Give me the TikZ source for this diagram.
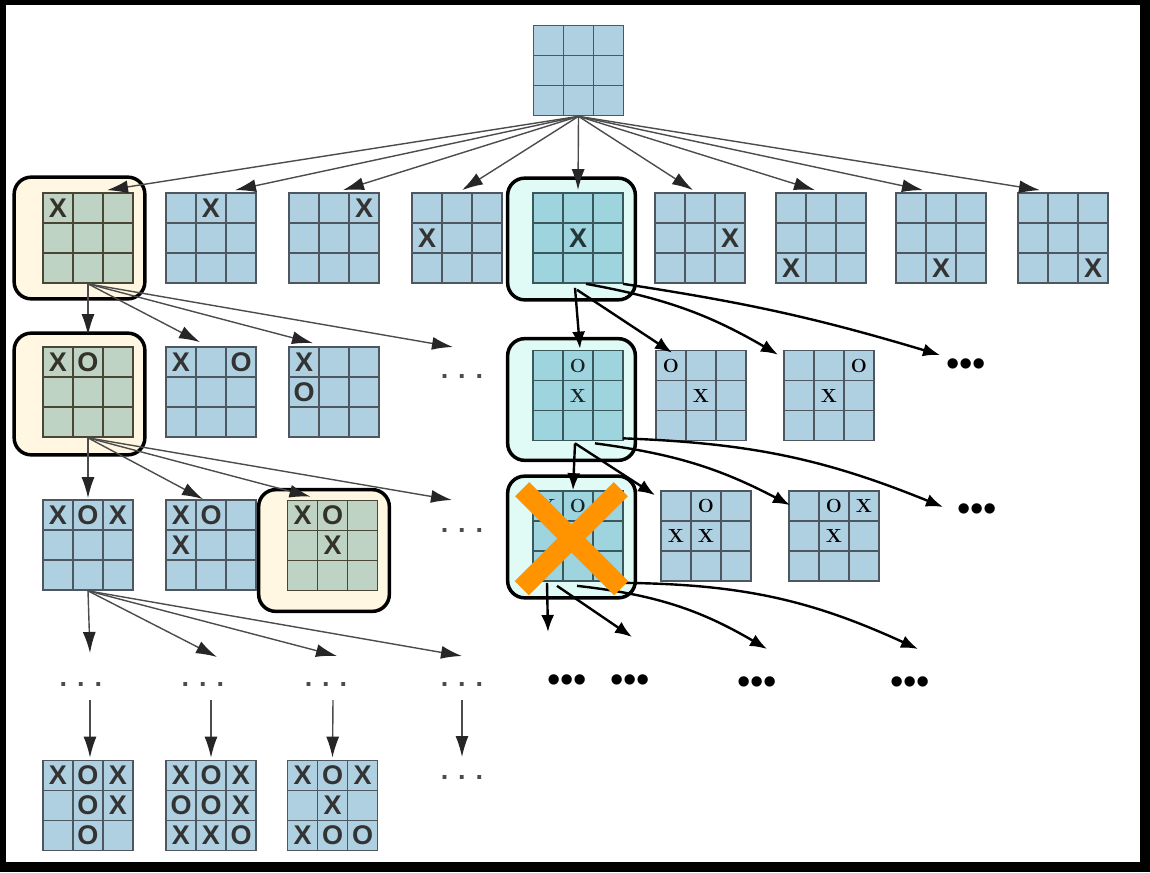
\documentclass[tikz,border=0pt]{standalone}
\usepackage{fontspec}
\usepackage{xcolor}
\usepackage{tikz}
\usetikzlibrary{matrix, positioning, fit, backgrounds, arrows.meta}
\setsansfont{Liberation Sans}
\definecolor{colorB}{HTML}{AED0E0}
\definecolor{colorL}{HTML}{4E575F}
\definecolor{colorG}{HTML}{BED3C4}
\definecolor{colorGL}{HTML}{4A4636}
\definecolor{colorT}{HTML}{9ED4DE}
\definecolor{colorTL}{HTML}{3A585C}
\definecolor{colorY}{HTML}{FFF7E1}
\definecolor{colorC}{HTML}{E0FAF6}
\definecolor{colorA}{HTML}{4C4C4C}
\definecolor{colorO}{HTML}{FF9400}

\tikzset{
    board/.style={matrix of nodes, nodes in empty cells, inner sep=0pt, outer sep=0pt,
        row sep=-1.7pt, column sep=-1.7pt,
        nodes={draw=colorL, line width=1.7pt, fill=colorB, minimum size=30pt,
            anchor=center, inner sep=0pt, outer sep=0pt, text=black!80,
            font=\fontsize{27}{27}\sffamily\bfseries}},
    sboard/.style={board, nodes={font=\fontsize{19}{19}\rmfamily\bfseries, text=black}},
    yboard/.style={board, nodes={fill=colorG, draw=colorGL, text=colorGL!70!black}},
    tboard/.style={board, nodes={fill=colorT, draw=colorTL, text=colorTL!60!black}},
    tsboard/.style={sboard, nodes={fill=colorT, draw=colorTL, text=colorTL!40!black}},
    hbox/.style={draw=black, line width=3.5pt, rounded corners=17pt, inner ysep=15pt},
    ybox/.style={hbox, fill=colorY, inner xsep=19.5pt, xshift=-8.5pt},
    cbox/.style={hbox, fill=colorC, inner xsep=18pt, xshift=-6.5pt},
    garrow/.style={draw=colorA, line width=1.4pt, -{Latex[length=21pt,width=13pt,color=black!85]}},
    karrow/.style={draw=black, line width=2.4pt, -{Latex[length=17pt,width=13pt]}},
    gdots/.style={inner sep=0pt, text=colorA, font=\fontsize{27}{27}\sffamily\bfseries},
    kdots/.style={inner sep=0pt, text=black, font=\fontsize{38}{38}\sffamily}
}

\begin{document}
\begin{tikzpicture}[x=1pt, y=-1pt]
        \begin{scope}[on background layer]
                \fill[black] (0,0) rectangle (1150,872);
                \fill[white] (6,5) rectangle (1140,862);
        \end{scope}

        \matrix (root) [board] at (578.5,70.5) { & & \\ & & \\ & & \\};

        \matrix (a1) [yboard] at (88,238) {X & & \\ & & \\ & & \\};
        \matrix (a2) [board] at (211,238) { & X & \\ & & \\ & & \\};
        \matrix (a3) [board] at (334,238) { & & X \\ & & \\ & & \\};
        \matrix (a4) [board] at (457,238) { & & \\ X & & \\ & & \\};
        \matrix (a5) [tboard] at (578,238) { & & \\ & X & \\ & & \\};
        \matrix (a6) [board] at (700,238) { & & \\ & & X \\ & & \\};
        \matrix (a7) [board] at (821,238) { & & \\ & & \\ X & & \\};
        \matrix (a8) [board] at (941,238) { & & \\ & & \\ & X & \\};
        \matrix (a9) [board] at (1063,238) { & & \\ & & \\ & & X \\};

        \matrix (b1) [yboard] at (88,392) {X & O & \\ & & \\ & & \\};
        \matrix (b2) [board] at (211,392) {X & & O \\ & & \\ & & \\};
        \matrix (b3) [board] at (334,392) {X & & \\ O & & \\ & & \\};
        \node[gdots] (bd) at (462,376) {. . .};

        \matrix (e1) [tsboard] at (578,395.5) { & O & \\ & X & \\ & & \\};
        \matrix (e2) [sboard] at (701,395.5) {O & & \\ & X & \\ & & \\};
        \matrix (e3) [sboard] at (829,395.5) { & & O \\ & X & \\ & & \\};
        \node[kdots] (ed) at (966,368) {•••};

        \matrix (c1) [board] at (88,545) {X & O & X \\ & & \\ & & \\};
        \matrix (c2) [board] at (211,545) {X & O & \\ X & & \\ & & \\};
        \matrix (c3) [yboard] at (332.5,545.5) {X & O & \\ & X & \\ & & \\};
        \node[gdots] (cd) at (462,530) {. . .};

        \matrix (f1) [tsboard] at (578,536) {X & O & \\ & X & \\ & & \\};
        \matrix (f2) [sboard] at (706,536) { & O & \\ X & X & \\ & & \\};
        \matrix (f3) [sboard] at (834,536) { & O & X \\ & X & \\ & & \\};
        \node[kdots] (fd) at (977,513) {•••};

        \node[gdots] (g1) at (81,684) {. . .};
        \node[gdots] (g2) at (203,684) {. . .};
        \node[gdots] (g3) at (326,684) {. . .};
        \node[gdots] (g4) at (462,684) {. . .};

        \node[kdots] (h1) at (567,684) {•••};
        \node[kdots] (h2) at (630,684) {•••};
        \node[kdots] (h3) at (757,686) {•••};
        \node[kdots] (h4) at (910,686) {•••};

        \matrix (k1) [board] at (88,805.5) {X & O & X \\ & O & X \\ & O & \\};
        \matrix (k2) [board] at (211,805.5) {X & O & X \\ O & O & X \\ X & X & O \\};
        \matrix (k3) [board] at (332.5,805.5) {X & O & X \\ & X & \\ X & O & O \\};
        \node[gdots] (kd) at (462,777) {. . .};

        \begin{scope}[on background layer]
                \node[ybox, fit=(a1)] (ha1) {};
                \node[ybox, fit=(b1), yshift=-2pt] (hb1) {};
                \node[ybox, fit=(c3), yshift=-5pt] (hc3) {};
                \node[cbox, fit=(a5), yshift=-1pt] (ha5) {};
                \node[cbox, fit=(e1), yshift=-4pt] (he1) {};
                \node[cbox, fit=(f1), yshift=-1pt] (hf1) {};
        \end{scope}

        \draw[garrow] (root.south) -- ([xshift=19pt,yshift=2pt]a1.north);
        \draw[garrow] (root.south) -- ([xshift=24pt,yshift=2pt]a2.north);
        \draw[garrow] (root.south) -- ([xshift=9pt,yshift=2pt]a3.north);
        \draw[garrow] (root.south) -- ([xshift=5pt,yshift=2pt]a4.north);
        \draw[garrow] (root.south) -- ([yshift=2pt]a5.north);
        \draw[garrow] (root.south) -- ([xshift=-7pt,yshift=2pt]a6.north);
        \draw[garrow] (root.south) -- ([xshift=-6pt,yshift=2pt]a7.north);
        \draw[garrow] (root.south) -- ([xshift=-18pt,yshift=2pt]a8.north);
        \draw[garrow] (root.south) -- ([xshift=-23pt,yshift=2pt]a9.north);

        \draw[garrow] (a1.south) -- ([yshift=11pt]b1.north);
        \draw[garrow] (a1.south) -- ([xshift=-11pt,yshift=4pt]b2.north);
        \draw[garrow] (a1.south) -- ([xshift=-21pt,yshift=3pt]b3.north);
        \draw[garrow] (a1.south) -- ([xshift=-9pt,yshift=29pt]bd.center);

        \draw[garrow] (b1.south) -- ([yshift=1pt]c1.north);
        \draw[garrow] (b1.south) -- ([xshift=-8pt]c2.north);
        \draw[garrow] (b1.south) -- ([xshift=-22pt,yshift=3pt]c3.north);
        \draw[garrow] (b1.south) -- ([xshift=-10pt,yshift=30pt]cd.center);

        \draw[garrow] (c1.south) -- ([xshift=9pt,yshift=31pt]g1.center);
        \draw[garrow] (c1.south) -- ([xshift=14pt,yshift=27pt]g2.center);
        \draw[garrow] (c1.south) -- ([xshift=11pt,yshift=28pt]g3.center);
        \draw[garrow] (c1.south) -- ([yshift=28pt]g4.center);

        \draw[garrow] ([xshift=9pt,yshift=-16pt]g1.center) -- ([xshift=2pt,yshift=2pt]k1.north);
        \draw[garrow] ([xshift=8pt,yshift=-16pt]g2.center) -- ([yshift=2pt]k2.north);
        \draw[garrow] ([xshift=7pt,yshift=-16pt]g3.center) -- ([yshift=2pt]k3.north);
        \draw[garrow] ([yshift=-16pt]g4.center) -- ([yshift=20pt]kd.center);

        \draw[karrow] ([xshift=-3pt,yshift=-4pt]a5.south) -- ([xshift=2pt,yshift=1pt]e1.north);
        \draw[karrow] ([xshift=-1pt,yshift=-6pt]a5.south) -- ([xshift=-29pt,yshift=-3pt]e2.north);
        \draw[karrow] ([xshift=8pt]a5.south) to[bend left=10] ([xshift=-51pt,yshift=-5pt]e3.north);
        \draw[karrow] ([xshift=45pt]a5.south) to[bend left=4] ([xshift=-26pt,yshift=13pt]ed.center);

        \draw[karrow] ([xshift=-3pt,yshift=-2pt]e1.south) -- ([xshift=-5pt]f1.north);
        \draw[karrow] ([xshift=-3pt,yshift=-2pt]e1.south) -- ([xshift=-51pt,yshift=-5pt]f2.north);
        \draw[karrow] ([xshift=17pt,yshift=-2pt]e1.south) to[bend left=10] ([xshift=-44pt,yshift=-15pt]f3.north);
        \draw[karrow] ([xshift=45pt,yshift=3pt]e1.south) to[bend left=10] ([xshift=-34pt,yshift=6pt]fd.center);

        \draw[karrow] ([xshift=-31pt,yshift=-1pt]f1.south) -- ([xshift=-19pt,yshift=52pt]h1.center);
        \draw[karrow] ([xshift=-21pt,yshift=-4pt]f1.south) -- ([xshift=2pt,yshift=47pt]h2.center);
        \draw[karrow] ([xshift=-1pt,yshift=-4pt]f1.south) to[bend left=12] ([xshift=10pt,yshift=37pt]h3.center);
        \draw[karrow] ([xshift=45pt,yshift=-1pt]f1.south) to[bend left=12] ([xshift=8pt,yshift=37pt]h4.center);

        \draw[colorO, line width=20pt] (f1.north west) ++(-10,-1) -- ++(99,99);
        \draw[colorO, line width=20pt] (f1.north east) ++(-3,-1) -- ++(-99,99);
\end{tikzpicture}
\end{document}
